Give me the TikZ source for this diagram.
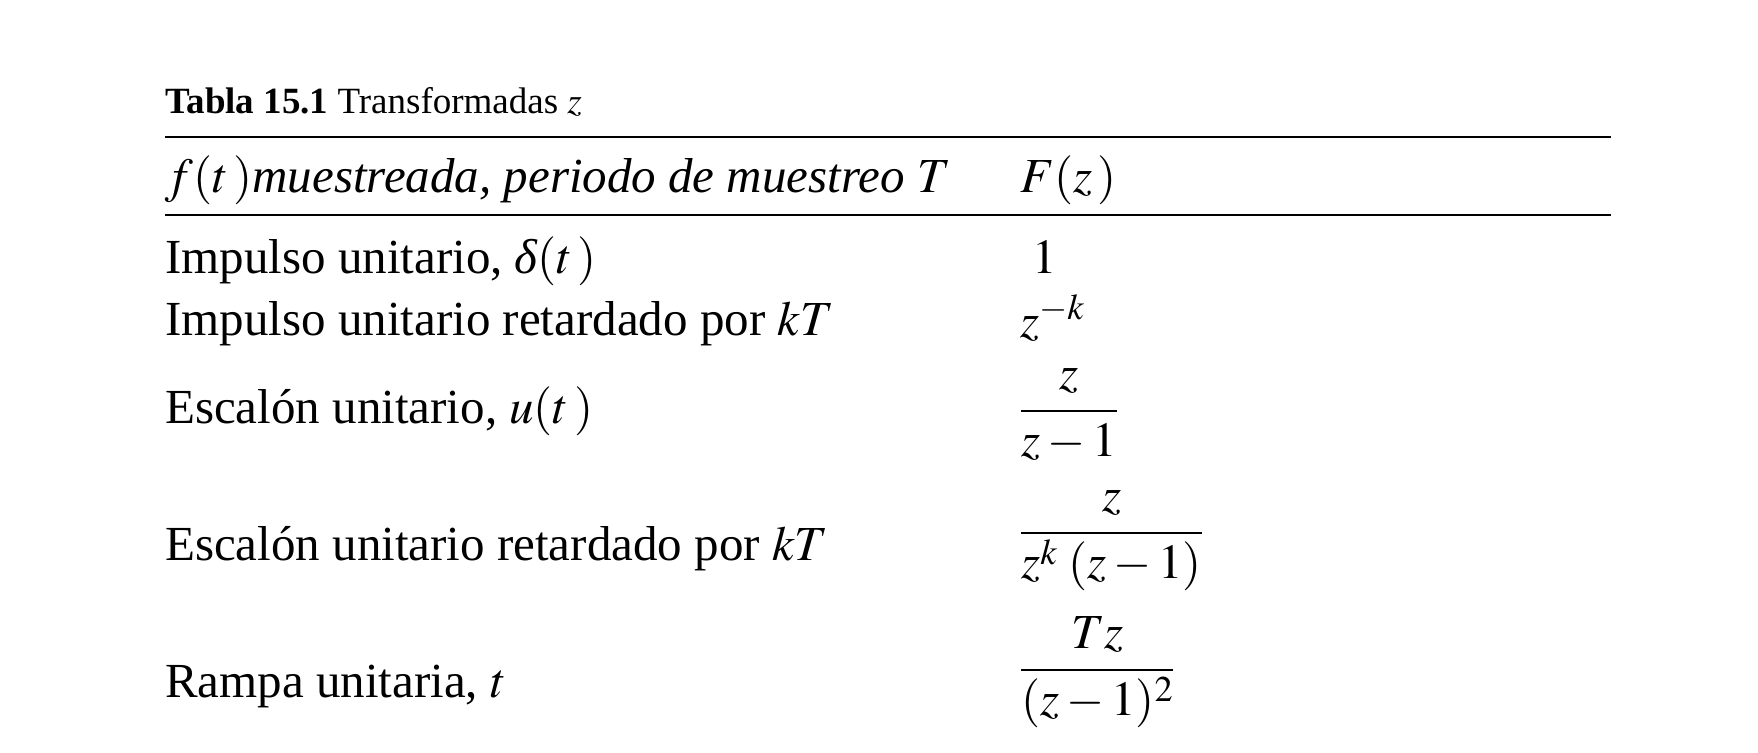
\documentclass[tikz,border=0pt]{standalone}
\usepackage{mathptmx}
\usepackage[no-math]{fontspec}
\setmainfont{Liberation Serif}

\begin{document}
\begin{tikzpicture}
  [x=1pt,y=-1pt,every node/.style={inner sep=0pt,anchor=base west,font=\fontsize{49}{58}\selectfont}]
  \useasboundingbox (0,0) rectangle (1758,752);
  \node (t) at (165,113) [font=\fontsize{37}{44}\selectfont] {\textbf{Tabla 15.1} Transformadas $z$};
  \coordinate (l1) at (165,137);
  \coordinate (r1) at (1611,137);
  \coordinate (l2) at (165,215);
  \coordinate (r2) at (1611,215);

  \node (h) at (165,192) {$f(t\,)$\textit{muestreada, periodo de muestreo}~$T$};
  \node (hF) at (1020,192) {$F(z\,)$};

  \node (a) at (165,273) {Impulso unitario, $\textit{δ}(t\,)$};
  \node (b) at (165,335) {Impulso unitario retardado por $kT$};
  \node (c) at (165,423) {Escalón unitario, $u(t\,)$};
  \node (d) at (165,560) {Escalón unitario retardado por $kT$};
  \node (e) at (165,697) {Rampa unitaria, $t$};

  \node (fa) at (1032,273) {$1$};
  \node (fb) at (1020,337) {$z^{-k}$};
  \node (fc) at (1020,423) {$\displaystyle\frac{z}{z-1}$};
  \node (fd) at (1020,545) {$\displaystyle\frac{z}{z^{k}\;(z-1)}$};
  \node (fe) at (1020,682) {$\displaystyle\frac{Tz}{(z-1)^{2}}$};

  \foreach \from/\to in {l1/r1,l2/r2}
    \draw[line width=2.5pt] (\from) -- (\to);

\end{tikzpicture}
\end{document}
